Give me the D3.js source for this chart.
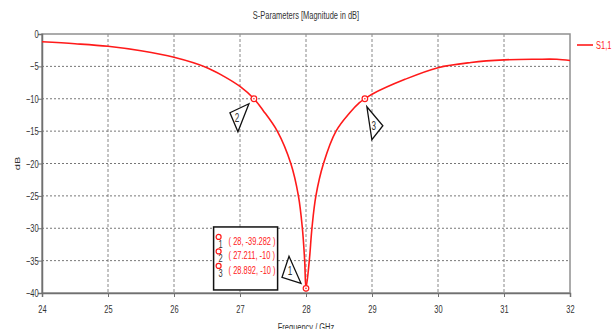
<!DOCTYPE html>
<html>
<head>
<meta charset="utf-8">
<script src="https://cdn.jsdelivr.net/npm/d3@7"></script>
<style>
  body { margin: 0; background: #fff; }
  text { font-family: "Liberation Sans", Arial, sans-serif; }
</style>
</head>
<body>
<div id="chart"></div>
<script>
var w = 613, h = 329;

// frequency (GHz) and S1,1 (dB)
var freq = [24, 24.5, 25, 25.5, 26, 26.5, 26.75, 27, 27.211, 27.35, 27.565, 27.77, 27.885, 27.945, 27.98, 28,
            28.05, 28.09, 28.15, 28.265, 28.455, 28.66, 28.81, 28.892, 29, 29.5, 30, 30.5, 31, 31.5, 31.8, 32];
var s11 = [-1.2, -1.5, -1.9, -2.6, -3.6, -5.2, -6.5, -8.1, -10, -11.8, -15, -20, -25, -30, -35, -39.282,
           -35, -30, -25, -20, -15, -12.2, -10.6, -10, -9.3, -7.0, -5.2, -4.4, -4.0, -3.9, -3.9, -4.1];

var xTicks = [24, 25, 26, 27, 28, 29, 30, 31, 32];
var yTicks = [0, -5, -10, -15, -20, -25, -30, -35, -40];

// markers: id, x, y
var markerIds = ["1", "2", "3"];
var markerX = [28, 27.211, 28.892];
var markerY = [-39.282, -10, -10];
var markerLabels = ["( 28, -39.282 )", "( 27.211, -10 )", "( 28.892, -10 )"];

var squeeze = 0.68; // the original font is very narrow

var margin = {top: 34, right: 43, bottom: 36, left: 42},
    width = w - margin.left - margin.right,
    height = h - margin.top - margin.bottom;

var svg = d3.select("#chart").append("svg")
    .attr("width", w)
    .attr("height", h);

// narrow text helper
function ntext(sel, px, py, txt, size, color, anchor) {
  return sel.append("text")
    .attr("transform", "translate(" + px + "," + py + ") scale(" + squeeze + ",1)")
    .attr("text-anchor", anchor || "start")
    .attr("fill", color)
    .style("font-size", size + "px")
    .text(txt);
}

var x = d3.scaleLinear().domain([24, 32]).range([0, width]);
var y = d3.scaleLinear().domain([-40, 0]).range([height, 0]);

var g = svg.append("g")
    .attr("transform", "translate(" + margin.left + "," + margin.top + ")");

// grid
g.selectAll(".vgrid").data(xTicks.slice(1, -1)).enter().append("line")
    .attr("x1", function(d) { return x(d); }).attr("x2", function(d) { return x(d); })
    .attr("y1", 0).attr("y2", height)
    .attr("stroke", "#888").attr("stroke-dasharray", "3,2");
g.selectAll(".hgrid").data(yTicks.slice(1, -1)).enter().append("line")
    .attr("y1", function(d) { return y(d); }).attr("y2", function(d) { return y(d); })
    .attr("x1", 0).attr("x2", width)
    .attr("stroke", "#777").attr("stroke-dasharray", "2,2");

// frame
g.append("rect").attr("width", width).attr("height", height)
    .attr("fill", "none").attr("stroke", "#909090").attr("stroke-width", 1.5);

// axes
var xAxis = g.append("g")
    .attr("transform", "translate(0," + height + ")")
    .call(d3.axisBottom(x).tickValues(xTicks).tickSize(4).tickPadding(8));
var yAxis = g.append("g")
    .call(d3.axisLeft(y).tickValues(yTicks).tickSize(4).tickPadding(1));
[xAxis, yAxis].forEach(function(a) {
  a.select(".domain").attr("stroke", "#707070").attr("stroke-width", 1.5);
  a.selectAll(".tick line").attr("stroke", "#707070");
  a.selectAll("text").attr("fill", "#333").style("font-size", "11px")
    .style("font-family", "'Liberation Sans', Arial, sans-serif")
    .attr("transform", "scale(" + squeeze + ",1)");
});

// curve
var pts = freq.map(function(f, i) { return [f, s11[i]]; });
var line = d3.line()
    .x(function(d) { return x(d[0]); })
    .y(function(d) { return y(d[1]); })
    .curve(d3.curveCatmullRom.alpha(0.5));
g.append("path").datum(pts)
    .attr("fill", "none").attr("stroke", "#ff1a1a").attr("stroke-width", 1.6)
    .attr("d", line);

// triangle callouts, offsets relative to the marker point
var triOffsets = [
  [[-5, -5], [-24, -11], [-17, -32]],
  [[-5, 5], [-24, 14], [-16, 33]],
  [[2, 8], [18, 27], [7, 41]]
];
var triText = [[-16, -17], [-17, 19], [9, 27]];

markerIds.forEach(function(id, i) {
  var px = x(markerX[i]), py = y(markerY[i]);
  var o = triOffsets[i];
  g.append("path")
    .attr("d", "M" + o.map(function(p) { return (px + p[0]) + "," + (py + p[1]); }).join("L") + "Z")
    .attr("fill", "#fff").attr("stroke", "#111").attr("stroke-width", 1.3);
  ntext(g, px + triText[i][0], py + triText[i][1] + 4, id, 12, "#333", "middle");
  g.append("circle").attr("cx", px).attr("cy", py).attr("r", 2.8)
    .attr("fill", "#fff").attr("stroke", "#ff1a1a").attr("stroke-width", 1.2);
  g.append("circle").attr("cx", px).attr("cy", py).attr("r", 0.8).attr("fill", "#ff1a1a");
});

// marker table
var box = g.append("g").attr("transform", "translate(" + x(26.6) + "," + y(-29.8) + ")");
box.append("rect").attr("width", 64).attr("height", 63)
    .attr("fill", "#fff").attr("stroke", "#111").attr("stroke-width", 1.5);
markerLabels.forEach(function(t, i) {
  var ry = i * 14.5;
  box.append("circle").attr("cx", 5).attr("cy", ry + 10).attr("r", 2.5)
    .attr("fill", "#fff").attr("stroke", "#ff1a1a").attr("stroke-width", 1.2);
  ntext(box, 7, ry + 21, markerIds[i], 11, "#333", "middle");
  ntext(box, 15, ry + 18, t, 11, "#ff1a1a");
});

// legend
var lg = svg.append("g").attr("transform", "translate(" + (margin.left + width + 7) + "," + (margin.top + 11) + ")");
lg.append("line").attr("x1", 0).attr("x2", 16).attr("y1", 0).attr("y2", 0)
    .attr("stroke", "#ff1a1a").attr("stroke-width", 1.6);
ntext(lg, 19, 4, "S1,1", 11, "#ff1a1a");

// titles
ntext(svg, margin.left + width / 2, 19, "S-Parameters [Magnitude in dB]", 11, "#333", "middle");
ntext(svg, margin.left + width / 2, h + 2, "Frequency / GHz", 11, "#333", "middle");
svg.append("text")
    .attr("transform", "translate(20," + (margin.top + height / 2) + ") rotate(-90) scale(1," + squeeze + ")")
    .attr("text-anchor", "middle").attr("fill", "#333").style("font-size", "11px")
    .text("dB");
</script>
</body>
</html>
